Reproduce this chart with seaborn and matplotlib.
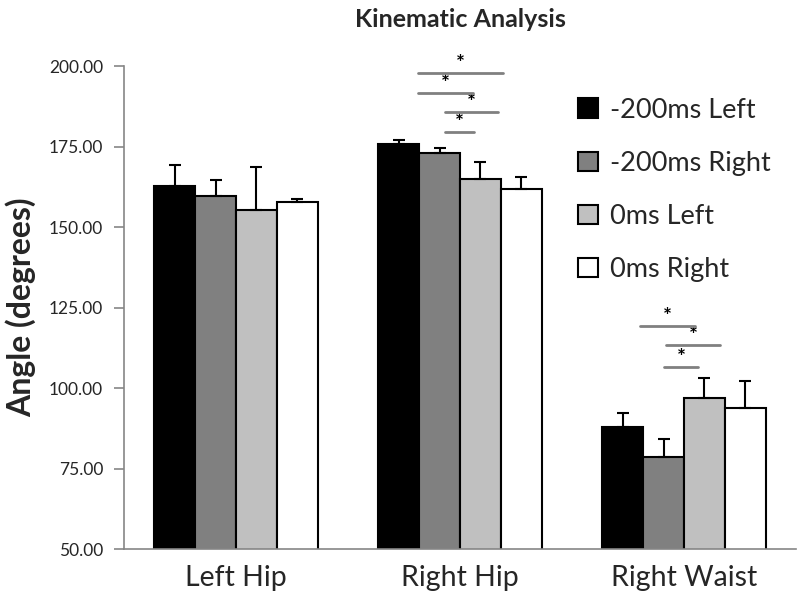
import numpy as np
import pandas as pd
import matplotlib
matplotlib.use("Agg")
import matplotlib.pyplot as plt
import seaborn as sns

# data
joints = ["Left Hip", "Right Hip", "Right Waist"]
conditions = ["-200ms Left", "-200ms Right", "0ms Left", "0ms Right"]
means = {
    "-200ms Left":  [162.9, 175.9, 88.0],
    "-200ms Right": [159.7, 172.9, 78.5],
    "0ms Left":     [155.3, 165.1, 97.1],
    "0ms Right":    [157.9, 161.8, 93.8],
}
err_top = {
    "-200ms Left":  [169.2, 177.0, 92.4],
    "-200ms Right": [164.8, 174.5, 84.1],
    "0ms Left":     [168.7, 170.1, 103.1],
    "0ms Right":    [158.9, 165.6, 102.1],
}
# significance brackets: joint index, x start / end offset, height
sig_joint = [1, 1, 1, 1, 2, 2, 2]
sig_x0 = [-0.187, -0.187, -0.067, -0.067, -0.196, -0.081, -0.088]
sig_x1 = [0.191, 0.058, 0.169, 0.062, 0.049, 0.162, 0.062]
sig_y = [197.8, 191.7, 185.9, 179.5, 119.2, 113.3, 106.5]

colors = ["#000000", "#808080", "#c0c0c0", "#ffffff"]
axis_gray = "#868686"

sns.set_style("white")
plt.rcParams["font.family"] = ["Lato", "DejaVu Sans"]

rows = []
for c in conditions:
    for j, joint in enumerate(joints):
        rows.append({"joint": joint, "condition": c, "angle": means[c][j]})
df = pd.DataFrame(rows)

fig = plt.figure(figsize=(8, 6.13), dpi=100)
ax = fig.add_axes([0.155, 0.104, 0.84, 0.788])

sns.barplot(data=df, x="joint", y="angle", hue="condition", order=joints,
            hue_order=conditions, palette=colors, width=0.73, gap=0,
            edgecolor="black", linewidth=1.5, errorbar=None, ax=ax)

# upper-only error bars, placed on the drawn bars
for ci, c in enumerate(conditions):
    container = ax.containers[ci]
    for j, bar in enumerate(container):
        xc = bar.get_x() + bar.get_width() / 2
        h = means[c][j]
        ax.errorbar(xc, h, yerr=[[0], [err_top[c][j] - h]], fmt="none",
                    ecolor="black", elinewidth=1.5, capsize=4, capthick=1.5,
                    zorder=3)

for j, x0, x1, y in zip(sig_joint, sig_x0, sig_x1, sig_y):
    ax.plot([j + x0, j + x1], [y, y], color="#808080", lw=2, zorder=4)
    ax.text(j + (x0 + x1) / 2, y - 0.3, "*", ha="center", va="bottom",
            fontsize=15, fontweight="bold", color="black")

ax.set_ylim(50, 200)
ax.set_xlim(-0.5, 2.5)
ax.set_yticks(np.arange(50, 201, 25))
ax.set_yticklabels([f"{v:.2f}" for v in np.arange(50, 201, 25)], fontsize=12.5)
ax.set_xticks(range(len(joints)))
ax.set_xticklabels(joints, fontsize=20.5)
ax.set_xticks([0.5, 1.5], minor=True)
ax.tick_params(axis="x", which="major", length=0, pad=11, colors="#262626")
ax.tick_params(axis="x", which="minor", length=7, color=axis_gray, width=1.2)
ax.tick_params(axis="y", length=7, color=axis_gray, width=1.2, left=True,
               labelcolor="#262626", pad=8)
for s in ["top", "right"]:
    ax.spines[s].set_visible(False)
for s in ["left", "bottom"]:
    ax.spines[s].set_color(axis_gray)
    ax.spines[s].set_linewidth(1.2)

ax.set_xlabel("")
ax.set_ylabel("Angle (degrees)", fontsize=23, fontweight="bold", labelpad=9)
ax.set_title("Kinematic Analysis", fontsize=18, fontweight="bold", pad=28)

handles, labels = ax.get_legend_handles_labels()
ax.legend(handles, labels, loc="upper left", bbox_to_anchor=(0.676, 0.935),
          frameon=False, fontsize=19.5, handlelength=0.72, handleheight=0.72,
          handletextpad=0.45, labelspacing=1.04, borderpad=0, borderaxespad=0)

fig.savefig("out.png", dpi=100)
